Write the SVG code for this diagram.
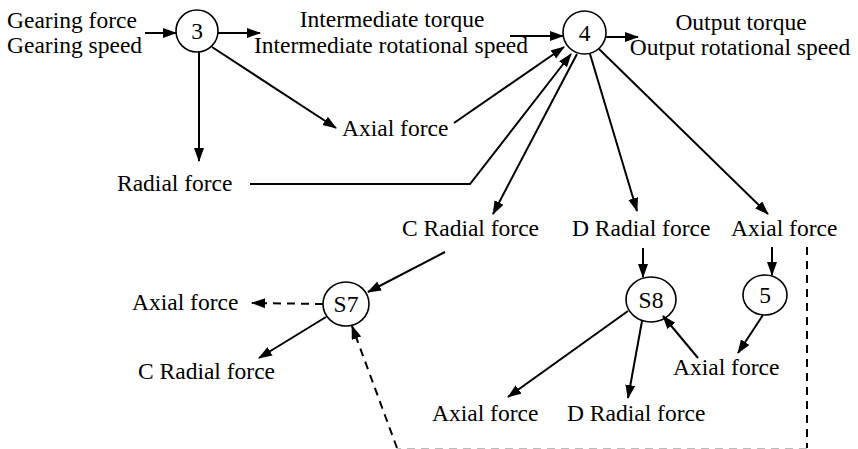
<svg xmlns="http://www.w3.org/2000/svg" width="858" height="449" viewBox="0 0 858 449">
<style>
.t text{font-size:23.5px;fill:#000}
.c{text-anchor:middle}
.n{fill:#fff;stroke:#000;stroke-width:1.6}
.l{fill:none;stroke:#000;stroke-width:2}
.a{marker-end:url(#ah)}
.d{stroke-dasharray:8,6}
</style>
<defs>
<marker id="ah" markerUnits="userSpaceOnUse" markerWidth="16" markerHeight="12" refX="13" refY="5" orient="auto">
<path d="M0,0 L14,5 L0,10 z" fill="#000"/>
</marker>
</defs>
<g id="labels" class="t" font-family="'Liberation Serif', 'Times New Roman', serif">
<text x="7" y="28">Gearing force</text>
<text x="7" y="53">Gearing speed</text>
<text class="c" x="392" y="27">Intermediate torque</text>
<text class="c" x="391" y="53">Intermediate rotational speed</text>
<text class="c" x="741" y="30">Output torque</text>
<text class="c" x="740" y="55">Output rotational speed</text>
<text x="342" y="136">Axial force</text>
<text x="117" y="191">Radial force</text>
<text x="402" y="236">C Radial force</text>
<text x="572" y="236">D Radial force</text>
<text x="731" y="236">Axial force</text>
<text x="132" y="310">Axial force</text>
<text x="138" y="379">C Radial force</text>
<text x="673" y="375">Axial force</text>
<text x="432" y="421">Axial force</text>
<text x="567" y="421">D Radial force</text>
</g>
<g class="t" font-family="'Liberation Serif', 'Times New Roman', serif">
<g id="node3"><circle class="n" cx="197" cy="31" r="21"/><text class="c" x="197" y="39">3</text></g>
<g id="node4"><circle class="n" cx="584.5" cy="32.5" r="21.5"/><text class="c" x="584.5" y="40.5">4</text></g>
<g id="nodeS7"><ellipse class="n" cx="346" cy="304" rx="23" ry="22"/><text class="c" x="346" y="312">S7</text></g>
<g id="nodeS8"><ellipse class="n" cx="651" cy="299.5" rx="25" ry="22.5"/><text class="c" x="651" y="307.5">S8</text></g>
<g id="node5"><ellipse class="n" cx="765" cy="295" rx="22" ry="20"/><text class="c" x="765" y="303">5</text></g>
</g>
<g id="connectors">
<path class="l a" d="M145,33 L176,33"/>
<path class="l a" d="M218,33 L260,33"/>
<path class="l a" d="M199,52 L199,161"/>
<path class="l a" d="M212,47 L336,128"/>
<path class="l a" d="M510,36 L563,36"/>
<path class="l a" d="M606,37 L638,37"/>
<path class="l a" d="M454,123 L564,47"/>
<path class="l a" d="M250,184 L470,184 L571,54"/>
<path class="l a" d="M577,54 L493,214"/>
<path class="l a" d="M590,54 L637,211"/>
<path class="l a" d="M599,49 L768,214"/>
<path class="l a" d="M643,248 L643,277"/>
<path class="l a" d="M772,247 L772,275"/>
<path class="l a" d="M763,315 L738,353"/>
<path class="l a" d="M698,358 L663,316"/>
<path class="l a" d="M628,311 L508,397"/>
<path class="l a" d="M642,321 L628,398"/>
<path class="l a" d="M445,252 L368,292"/>
<path class="l a d" d="M323,304 L252,303"/>
<path class="l a" d="M326,317 L259,358"/>
<path class="l d" d="M807,247 L807,448"/>
<path class="d" d="M807,448.5 L397,448.5" stroke="#bbb" stroke-width="1" fill="none"/>
<path class="l a d" d="M397,448 L352,326"/>
</g>
</svg>
